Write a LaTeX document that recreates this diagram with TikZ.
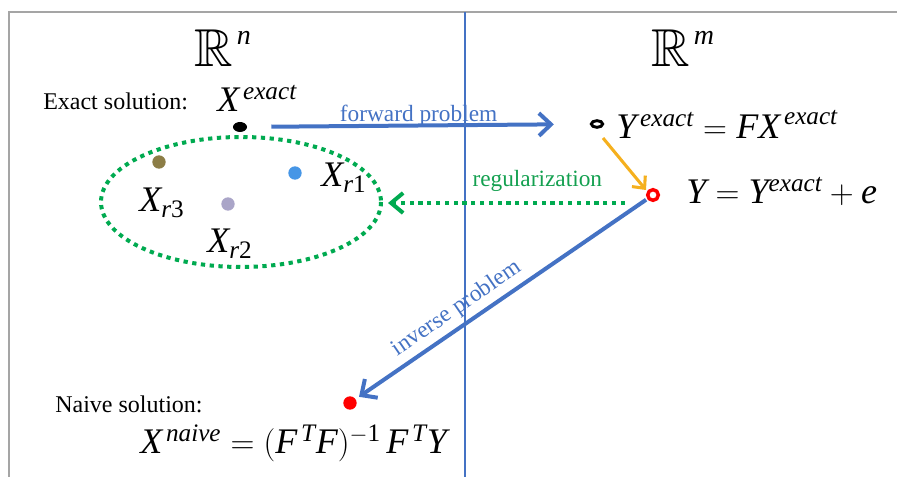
\documentclass[tikz,border=0pt]{standalone}
\usepackage{amssymb}
\usepackage{fontspec}
\setmainfont{Liberation Serif}
\usetikzlibrary{arrows.meta,shapes.geometric}
\definecolor{pblue}{RGB}{68,114,196}
\definecolor{pgreen}{RGB}{0,170,80}
\definecolor{tgreen}{RGB}{20,160,80}
\definecolor{porange}{RGB}{245,176,30}
\definecolor{polive}{RGB}{140,125,70}
\definecolor{pdotblue}{RGB}{70,150,230}
\definecolor{pgrayp}{RGB}{170,165,200}
\definecolor{pframe}{RGB}{165,165,165}
\tikzset{
  pt/.style={circle, inner sep=0pt, minimum size=#1},
  txt/.style={inner sep=0pt, font=\fontsize{18}{21}\selectfont},
  lbl/.style={inner sep=0pt, font=\fontsize{17.5}{20}\selectfont},
  mth/.style={inner sep=0pt, font=\fontsize{27}{31}\selectfont},
  bbr/.style={inner sep=0pt, font=\fontsize{40}{46}\selectfont},
  bluearrow/.style={pblue, line width=3pt, -{Straight Barb[length=9pt,width=17pt]}},
  greendot/.style={pgreen, line width=3pt, dash pattern=on 3.2pt off 3.4pt},
}
\newcommand{\mi}[1]{\mathit{#1}}
\newcommand{\spc}[1]{$\mathbb{R}$\hspace{3pt}\raisebox{17pt}{\fontsize{21}{23}\selectfont\itshape #1}}
\begin{document}
\begin{tikzpicture}[x=0.75pt,y=-0.75pt]
\useasboundingbox (0,0) rectangle (897,477);
% frame and separator
\draw[pframe, line width=2pt] (897,12) -- (9,12) -- (9,477);
\draw[pblue, line width=0.8pt] (465,12) -- (465,477);
% spaces
\node[bbr, anchor=base west] (rn) at (194,67) {\spc{n}};
\node[bbr, anchor=base west] (rm) at (651,67) {\spc{m}};
% points
\node[ellipse, fill=black, inner sep=0pt, minimum width=10.5pt, minimum height=7.5pt] (ex) at (240,127) {};
\node[ellipse, draw=black, line width=2.2pt, inner sep=0pt, minimum width=8.5pt, minimum height=5pt] (yex) at (597,124) {};
\node[pt=8pt, draw=red, line width=2.6pt, fill=white] (y) at (653,195) {};
\node[pt=10pt, fill=red] (xn) at (350,403) {};
\node[pt=10pt, fill=polive] (p3) at (159,162) {};
\node[pt=10pt, fill=pdotblue] (p1) at (295,173) {};
\node[pt=10pt, fill=pgrayp] (p2) at (228,204) {};
\draw[greendot] (241,202) ellipse [x radius=140, y radius=65];
\coordinate (cloudE) at (388,203);
% texts
\node[txt, anchor=base west] (exlab) at (43,110) {Exact solution:};
\node[mth, anchor=base west] (xex) at (217,112) {$\mi{X}^{\,\mi{exact}}$};
\node[mth, anchor=base west] (yexl) at (616,139) {$\mi{Y}^{\,\mi{exact}} = \mi{FX}^{\,\mi{exact}}$};
\node[mth, anchor=base west] (yl) at (686,204) {$\mi{Y} = \mi{Y}^{\mi{exact}} + \mi{e}$};
\node[mth, anchor=base west] (xr1) at (321,187) {$\mi{X}_{\mi{r}\mathrm{1}}$};
\node[mth, anchor=base west] (xr3) at (139,212) {$\mi{X}_{\mi{r}\mathrm{3}}$};
\node[mth, anchor=base west] (xr2) at (207,253) {$\mi{X}_{\mi{r}\mathrm{2}}$};
\node[txt, anchor=base west] (nvlab) at (55,413) {Naive solution:};
\node[mth, anchor=base west] (xnv) at (140,454) {$\mi{X}^{\,\mi{naive}} = (\mi{F}^{\,\mi{T}}\mi{F})^{-\mathrm{1}}\,\mi{F}^{\,\mi{T}}\mi{Y}$};
% connectors
\draw[bluearrow, shorten <=18pt, shorten >=27pt] (ex) -- (yex)
  node[pos=0.5, above=-2pt, text=pblue, lbl] (fwd) {forward problem};
\draw[porange, line width=2.3pt, -{Straight Barb[length=7pt,width=13pt]}]
  ([shift={(6,14)}]yex.center) -- ([shift={(-7,-5)}]y.center);
\draw[greendot, -{Straight Barb[length=9pt,width=15pt]}]
  ([shift={(-28,8)}]y.center) -- (cloudE)
  node[pos=0.37, above=7pt, text=tgreen, lbl] (reg) {regularization};
\draw[pblue, line width=3pt, {Straight Barb[length=9pt,width=17pt]}-, shorten <=3pt, shorten >=1pt] (xn) -- (y)
  node[pos=0.38, sloped, above=3.5pt, text=pblue, lbl] (inv) {inverse problem};
\end{tikzpicture}
\end{document}
